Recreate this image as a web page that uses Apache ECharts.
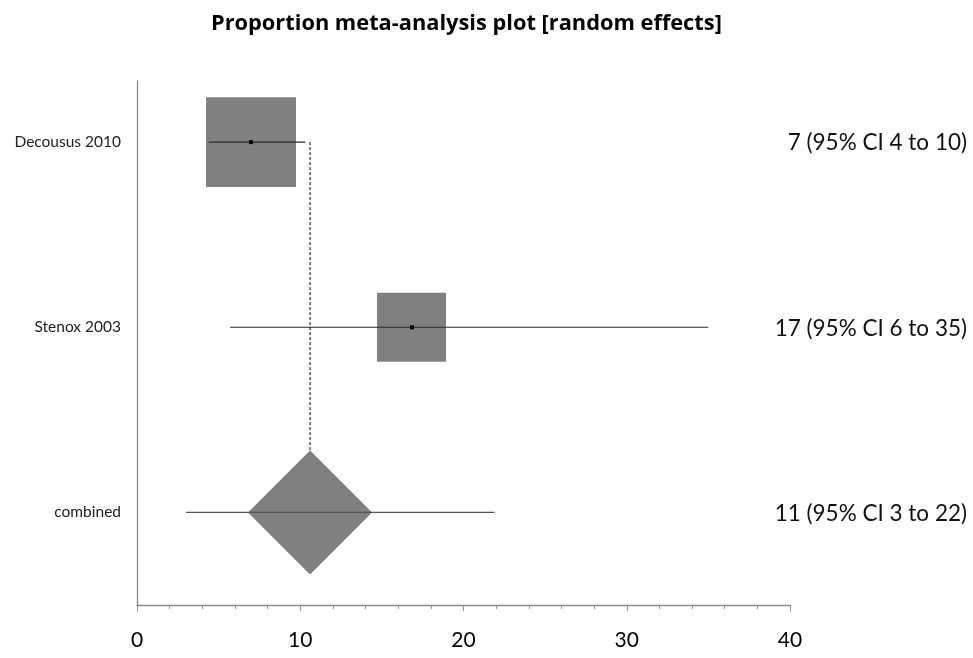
<!DOCTYPE html>
<html>
<head>
<meta charset="utf-8">
<script src="https://cdn.jsdelivr.net/npm/echarts@6/dist/echarts.min.js"></script>
<style>
  html, body { margin: 0; padding: 0; background: #fff; }
  #eChart { width: 973px; height: 658px; }
</style>
</head>
<body>
<div id="eChart"></div>
<script>
// rows, top to bottom
const studies = ["Decousus 2010", "Stenox 2003", "combined"];
const rowPos = [1, 2, 3];
const estimates = [6.98, 16.85, 10.6];
const ciLow = [4.4, 5.7, 3.0];
const ciHigh = [10.3, 35.0, 21.9];
// horizontal extent of the weight box (studies) / diamond (combined)
const shapeLow = [4.23, 14.7, 6.8];
const shapeHigh = [9.74, 18.93, 14.4];
const resultLabels = ["7 (95% CI 4 to 10)", "17 (95% CI 6 to 35)", "11 (95% CI 3 to 22)"];
const xTicks = [0, 10, 20, 30, 40];

const FONT = "Lato";
const LINE = "#2a2a2a";
const FILL = "#808080";

function renderRow(params, api) {
  const i = params.dataIndex;
  const y = api.value(0);
  const est = api.value(1);
  const pEst = api.coord([est, y]);
  const pLo = api.coord([api.value(2), y]);
  const pHi = api.coord([api.value(3), y]);
  const sLo = api.coord([api.value(4), y]);
  const sHi = api.coord([api.value(5), y]);
  const half = (sHi[0] - sLo[0]) / 2;
  const isCombined = i === studies.length - 1;
  const children = [];

  if (isCombined) {
    // dashed reference line from first row down to the diamond
    const top = api.coord([est, rowPos[0]]);
    children.push({
      type: "line",
      shape: { x1: pEst[0], y1: top[1], x2: pEst[0], y2: pEst[1] - half },
      style: { stroke: "#000", lineWidth: 1, lineDash: [3, 2] },
    });
    children.push({
      type: "polygon",
      shape: {
        points: [
          [pEst[0], pEst[1] - half],
          [sHi[0], pEst[1]],
          [pEst[0], pEst[1] + half],
          [sLo[0], pEst[1]],
        ],
      },
      style: { fill: FILL },
    });
  } else {
    children.push({
      type: "rect",
      shape: { x: sLo[0], y: pEst[1] - half, width: half * 2, height: half * 2 },
      style: { fill: FILL },
    });
  }

  children.push({
    type: "line",
    shape: { x1: pLo[0], y1: pLo[1], x2: pHi[0], y2: pHi[1] },
    style: { stroke: isCombined ? "#555" : LINE, lineWidth: 1.2 },
  });

  if (!isCombined) {
    children.push({
      type: "rect",
      shape: { x: pEst[0] - 2, y: pEst[1] - 2, width: 4, height: 4 },
      style: { fill: "#000" },
    });
  }

  // study name left of the axis, result on the right
  children.push({
    type: "text",
    style: {
      text: studies[i],
      x: 121,
      y: pEst[1],
      align: "right",
      verticalAlign: "middle",
      fontFamily: FONT,
      fontSize: 15.5,
      fill: "#222",
    },
  });
  children.push({
    type: "text",
    style: {
      text: resultLabels[i],
      x: api.getWidth() - 6,
      y: pEst[1] + 1,
      align: "right",
      verticalAlign: "middle",
      fontFamily: FONT,
      fontSize: 22.5,
      fill: "#111",
    },
  });

  return { type: "group", children: children };
}

const chart = echarts.init(document.getElementById("eChart"), null, { renderer: "canvas" });

chart.setOption({
  animation: false,
  backgroundColor: "#fff",
  title: {
    text: "Proportion meta-analysis plot [random effects]",
    left: 206,
    top: 8,
    textStyle: { fontFamily: "Open Sans", fontWeight: "bold", fontSize: 21.8, color: "#000" },
  },
  grid: { left: 137, right: 183, top: 81, bottom: 53 },
  xAxis: {
    type: "value",
    min: xTicks[0],
    max: xTicks[xTicks.length - 1],
    interval: 10,
    splitLine: { show: false },
    axisLine: { lineStyle: { color: "#8c8c8c", width: 1.3 } },
    axisTick: { show: true, length: 6, lineStyle: { color: "#8c8c8c" } },
    minorTick: { show: true, splitNumber: 5, length: 4, lineStyle: { color: "#8c8c8c" } },
    axisLabel: { fontFamily: FONT, fontSize: 21, color: "#000", margin: 25 },
  },
  yAxis: {
    type: "value",
    inverse: true,
    min: 0.67,
    max: 3.5,
    splitLine: { show: false },
    axisLine: { show: true, lineStyle: { color: "#8c8c8c", width: 1.3 } },
    axisTick: { show: false },
    axisLabel: { show: false },
  },
  series: [
    {
      type: "custom",
      renderItem: renderRow,
      clip: false,
      encode: { x: [1, 2, 3, 4, 5], y: 0 },
      data: studies.map((s, i) => [rowPos[i], estimates[i], ciLow[i], ciHigh[i], shapeLow[i], shapeHigh[i]]),
    },
  ],
});
</script>
</body>
</html>
